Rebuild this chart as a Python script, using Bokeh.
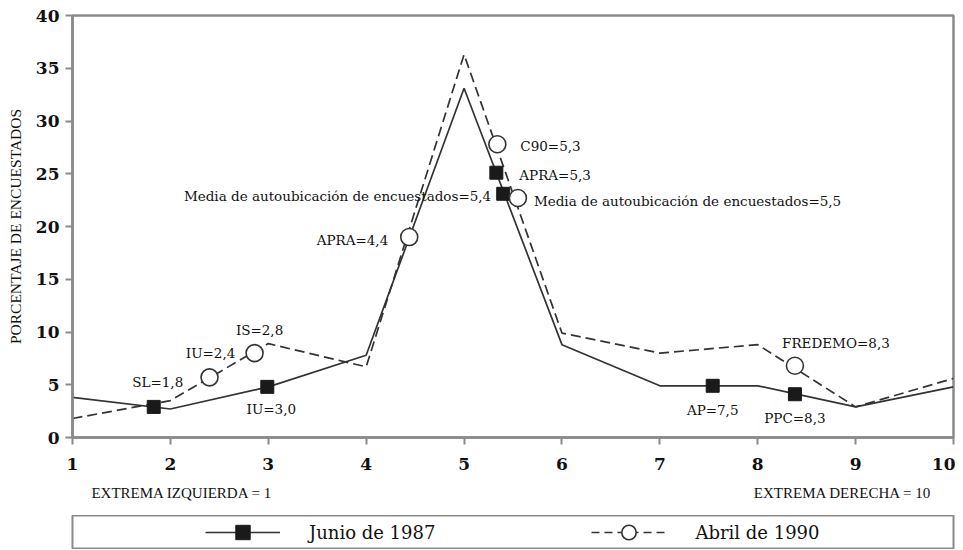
from bokeh.plotting import figure
from bokeh.models import (ColumnDataSource, LinearAxis, FixedTicker, Range1d,
                          Legend, LegendItem)
from bokeh.layouts import column
from bokeh.core.properties import value
from bokeh.embed import file_html
from bokeh.resources import INLINE

# ---------------- data ----------------
scale_points = [1, 2, 3, 4, 5, 6, 7, 8, 9, 10]
junio_1987 = [3.8, 2.7, 4.8, 7.8, 33.1, 8.8, 4.9, 4.9, 2.9, 4.8]
abril_1990 = [1.8, 3.5, 8.9, 6.7, 36.3, 9.9, 8.0, 8.8, 2.9, 5.6]

junio_party_x = [1.83, 2.99, 5.33, 5.40, 7.54, 8.38]
junio_party_y = [2.9, 4.8, 25.1, 23.1, 4.9, 4.1]
junio_party_labels = ["SL=1,8", "IU=3,0", "APRA=5,3",
                      "Media de autoubicación de encuestados=5,4",
                      "AP=7,5", "PPC=8,3"]

abril_party_x = [2.40, 2.86, 4.44, 5.34, 5.55, 8.38]
abril_party_y = [5.7, 8.0, 19.0, 27.8, 22.7, 6.8]
abril_party_labels = ["IU=2,4", "IS=2,8", "APRA=4,4", "C90=5,3",
                      "Media de autoubicación de encuestados=5,5",
                      "FREDEMO=8,3"]

x_ticks = [1, 2, 3, 4, 5, 6, 7, 8, 9, 10]
y_ticks = [0, 5, 10, 15, 20, 25, 30, 35, 40]
series_names = ["Junio de 1987", "Abril de 1990"]
y_title = "PORCENTAJE DE ENCUESTADOS"
left_end_label = "EXTREMA IZQUIERDA = 1"
right_end_label = "EXTREMA DERECHA = 10"

# ---------------- styles / layout ----------------
SERIF = "DejaVu Serif"
CAPS_SERIF = "Liberation Serif"
AXIS_GRAY = "#8a8a8a"
LINE_COL = "#333333"

# label offsets in screen px (x right, y down) and alignment
junio_dx = [4, 4, 23, -12, 0, 0]
junio_dy = [-25, 22, 2, 2, 24, 24]
junio_al = ["center", "center", "left", "right", "center", "center"]
abril_dx = [1, 5, -21, 23, 16, 41]
abril_dy = [-24, -23, 3, 2, 3, -23]
abril_al = ["center", "center", "right", "left", "left", "center"]

p = figure(frame_width=881, frame_height=422,
           x_range=Range1d(1, 10), y_range=Range1d(0, 40),
           min_border_left=72, min_border_right=2, min_border_top=15,
           min_border_bottom=78,
           output_backend="svg", toolbar_location=None,
           background_fill_color="white", border_fill_color="white",
           outline_line_color=AXIS_GRAY, outline_line_width=2.5)
p.grid.visible = False

# main x axis
xa = p.xaxis[0]
xa.ticker = FixedTicker(ticks=x_ticks)
xa.minor_tick_line_color = None
xa.major_tick_in = 0
xa.major_tick_out = 7
xa.major_tick_line_color = AXIS_GRAY
xa.major_tick_line_width = 2
xa.axis_line_color = AXIS_GRAY
xa.axis_line_width = 2.5
xa.major_label_standoff = 13
xa.major_label_text_font = SERIF
xa.major_label_text_font_style = "bold"
xa.major_label_text_font_size = "17px"
xa.major_label_text_color = "#111111"

# y axis
ya = p.yaxis[0]
ya.ticker = FixedTicker(ticks=y_ticks)
ya.minor_tick_line_color = None
ya.major_tick_in = 0
ya.major_tick_out = 7
ya.major_tick_line_color = AXIS_GRAY
ya.major_tick_line_width = 2
ya.axis_line_color = AXIS_GRAY
ya.axis_line_width = 2.5
ya.major_label_standoff = 6
ya.major_label_text_font = SERIF
ya.major_label_text_font_style = "bold"
ya.major_label_text_font_size = "17px"
ya.major_label_text_color = "#111111"
ya.axis_label = y_title
ya.axis_label_text_font = CAPS_SERIF
ya.axis_label_text_font_style = "normal"
ya.axis_label_text_font_size = "15.5px"
ya.axis_label_text_color = "#111111"
ya.axis_label_standoff = 9

# second axis below carrying the scale-end captions
end_ticks = [2.12, 8.87]
ax2 = LinearAxis(ticker=FixedTicker(ticks=end_ticks),
                 major_label_overrides={end_ticks[0]: left_end_label,
                                        end_ticks[1]: right_end_label},
                 axis_line_color=None, major_tick_line_color=None,
                 minor_tick_line_color=None, major_tick_out=0, major_tick_in=0,
                 major_label_standoff=12,
                 major_label_text_font=CAPS_SERIF,
                 major_label_text_font_size="15px",
                 major_label_text_color="#111111")
p.add_layout(ax2, "below")

# lines
p.line(scale_points, junio_1987, line_color=LINE_COL, line_width=1.7)
p.line(scale_points, abril_1990, line_color=LINE_COL, line_width=1.7,
       line_dash="10 5")

# markers
p.scatter(junio_party_x, junio_party_y, marker="square", size=13,
          fill_color="#1a1a1a", line_color="#1a1a1a")
p.scatter(abril_party_x, abril_party_y, marker="circle", size=17,
          fill_color="white", line_color="#333333", line_width=1.6)

# annotation texts
lab_src = ColumnDataSource(dict(
    x=junio_party_x + abril_party_x,
    y=junio_party_y + abril_party_y,
    text=junio_party_labels + abril_party_labels,
    dx=junio_dx + abril_dx,
    dy=junio_dy + abril_dy,
    al=junio_al + abril_al,
))
p.text(x="x", y="y", text="text", x_offset="dx", y_offset="dy",
       text_align="al", text_baseline="middle", source=lab_src,
       text_font=value(SERIF), text_font_size="13.5px", text_color="#111111")

# ---------------- legend box ----------------
lg = figure(frame_width=881, frame_height=34,
            x_range=Range1d(0, 1), y_range=Range1d(0, 1),
            min_border_left=72, min_border_right=2, min_border_top=0,
            min_border_bottom=0, x_axis_type=None, y_axis_type=None,
            output_backend="svg", toolbar_location=None,
            background_fill_color="white", border_fill_color="white",
            outline_line_color=AXIS_GRAY, outline_line_width=2)
lg.grid.visible = False
# legend proxies: placed outside the visible range, only their legend samples show
proxy_x = [-2, -1]
proxy_y = [-2, -1]
l1 = lg.line(x=proxy_x, y=proxy_y, line_color=LINE_COL, line_width=1.7)
s1 = lg.scatter(x=proxy_x, y=proxy_y, marker="square", size=13,
                fill_color="#1a1a1a", line_color="#1a1a1a")
l2 = lg.line(x=proxy_x, y=proxy_y, line_color=LINE_COL, line_width=1.7,
             line_dash="8 5")
s2 = lg.scatter(x=proxy_x, y=proxy_y, marker="circle", size=17,
                fill_color="white", line_color="#333333", line_width=1.6)
legend = Legend(items=[LegendItem(label=series_names[0], renderers=[l1, s1]),
                       LegendItem(label=series_names[1], renderers=[l2, s2])],
                location=(133, -1), orientation="horizontal",
                border_line_color=None, background_fill_alpha=0,
                glyph_width=75, glyph_height=36, label_standoff=29,
                spacing=156, padding=0, margin=0,
                label_text_font=SERIF, label_text_font_size="18px",
                label_text_color="#111111")
lg.add_layout(legend)

layout = column(p, lg, spacing=0)
open("out.html", "w").write(file_html(layout, INLINE))
